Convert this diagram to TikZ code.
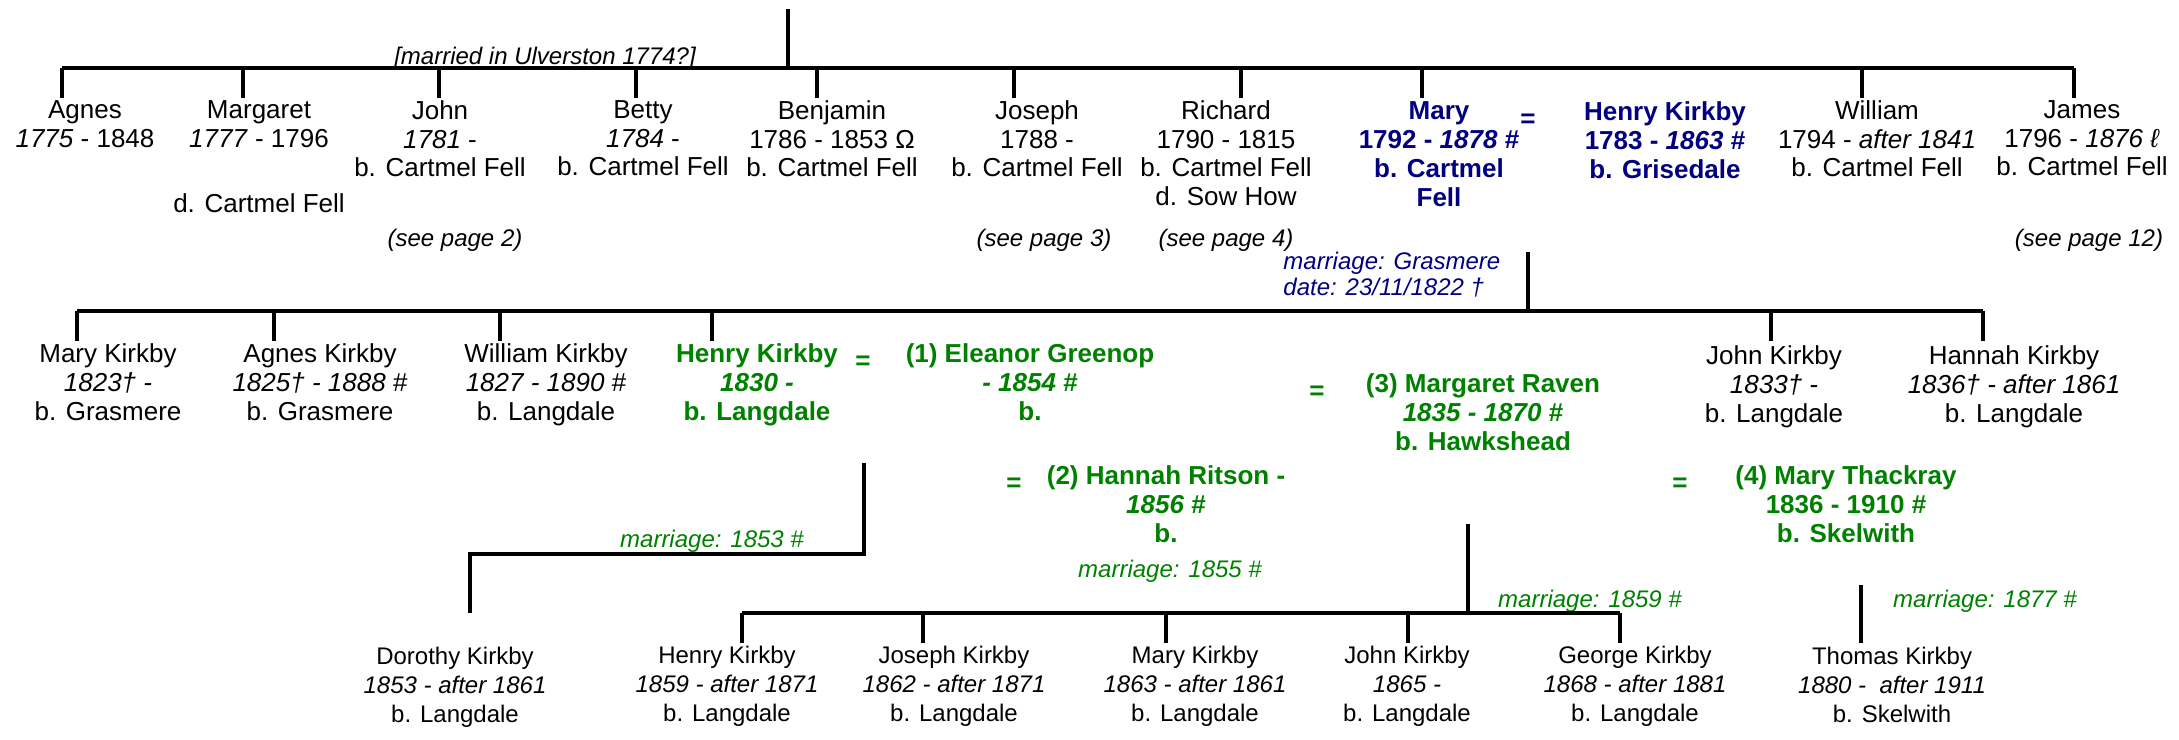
\documentclass[tikz,border=0pt]{standalone}
\usepackage{fontspec}
\setmainfont{Liberation Sans}
\definecolor{mblue}{RGB}{0,0,128}
\definecolor{mgreen}{RGB}{0,128,0}
\begin{document}
\begin{tikzpicture}[x=0.5pt,y=-0.5pt,
  line/.style={line width=1.65pt},
  big/.style={anchor=north,inner sep=0pt,align=center,
    font=\fontsize{13pt}{14.5pt}\selectfont,yshift=8.3pt,
    execute at begin node={\rule{0pt}{1em}}},
  bigA/.style={big,font=\fontsize{13pt}{14.25pt}\selectfont},
  small/.style={anchor=north,inner sep=0pt,align=center,
    font=\fontsize{12pt}{14.5pt}\selectfont,yshift=7.7pt,
    execute at begin node={\rule{0pt}{1em}}},
  note/.style={small,font=\fontsize{12pt}{14.5pt}\selectfont\itshape},
  blue/.style={text=mblue,font=\fontsize{13pt}{14.5pt}\selectfont\bfseries},
  green/.style={text=mgreen,font=\fontsize{13pt}{14.5pt}\selectfont\bfseries},
]
\useasboundingbox (0,0) rectangle (2179,739);

% ---------- generation 1 ----------
\node[note] (ulv) at (545,55) {[married in Ulverston 1774?]};
\node[bigA] (agnes) at (85,117) {Agnes\\\textit{1775} - 1848};
\node[bigA] (margaret) at (259,117) {Margaret\\\textit{1777} - 1796};
\node[bigA] (margaretd) at (259,203) {d. Cartmel Fell};
\node[bigA] (john) at (440,117) {John\\\textit{1781} -\\b. Cartmel Fell};
\node[bigA] (betty) at (643,117) {Betty\\\textit{1784} -\\b. Cartmel Fell};
\node[bigA] (benjamin) at (832,117) {Benjamin\\1786 - 1853 Ω\\b. Cartmel Fell};
\node[bigA] (joseph) at (1037,117) {Joseph\\1788 -\\b. Cartmel Fell};
\node[bigA] (richard) at (1226,117) {Richard\\1790 - 1815\\b. Cartmel Fell\\d. Sow How};
\node[big,blue] (mary) at (1439,118) {Mary\\1792 - \textit{1878} \#\\b. Cartmel\\Fell};
\node[big,blue] (eqa) at (1528,118) {=};
\node[big,blue] (henry) at (1665,118) {Henry Kirkby\\1783 - \textit{1863} \#\\b. Grisedale};
\node[bigA] (william) at (1877,117) {William\\1794 - \textit{after 1841}\\b. Cartmel Fell};
\node[bigA] (james) at (2082,117) {James\\1796 - \textit{1876 ℓ}\\b. Cartmel Fell};
\node[note] (sp2) at (455,237) {(see page 2)};
\node[note] (sp3) at (1044,237) {(see page 3)};
\node[note] (sp4) at (1226,237) {(see page 4)};
\node[note] (sp12) at (2089,237) {(see page 12)};

\coordinate (g1top) at (788,9);
\coordinate (g1j) at (788,68);
\coordinate (g1L) at (62,68);
\coordinate (g1R) at (2074,68);
\draw[line] (g1top) -- (g1j);
\draw[line] (g1L) -- (g1R);
\foreach \n/\x in {agnes/62,margaret/243,john/439,betty/636,benjamin/817,
  joseph/1014,richard/1241,mary/1422,william/1862,james/2074}{
  \coordinate (\n-t) at (\x,68);
  \coordinate (\n-b) at (\x,98);
  \draw[line] (\n-t) -- (\n-b);
}

% marriage Mary = Henry
\node[anchor=north west,inner sep=0pt,align=left,text=mblue,
  font=\fontsize{12pt}{13pt}\selectfont\itshape,yshift=7.7pt,
  execute at begin node={\rule{0pt}{1em}}] (mgras) at (1283,267)
  {marriage: Grasmere\\date: 23/11/1822 †};
\coordinate (g2top) at (1528,252);
\coordinate (g2j) at (1528,311);
\draw[line] (g2top) -- (g2j);

% ---------- generation 2 ----------
\coordinate (g2L) at (77,311);
\coordinate (g2R) at (1983,311);
\draw[line] (g2L) -- (g2R);
\foreach \n/\x in {mk/77,ak/274,wk/500,hk/712,jk/1771,hak/1983}{
  \coordinate (\n-t) at (\x,311);
  \coordinate (\n-b) at (\x,341);
  \draw[line] (\n-t) -- (\n-b);
}
\node[big] (mk) at (108,360) {Mary Kirkby\\\textit{1823† -}\\b. Grasmere};
\node[big] (ak) at (320,360) {Agnes Kirkby\\\textit{1825† - 1888} \#\\b. Grasmere};
\node[big] (wk) at (546,360) {William Kirkby\\\textit{1827 - 1890} \#\\b. Langdale};
\node[big,green] (hk) at (757,360) {Henry Kirkby\\\textit{1830 -}\\b. Langdale};
\node[big,green] (eqb) at (863,360) {=};
\node[big,green] (eg) at (1030,360) {(1) Eleanor Greenop\\\textit{- 1854} \#\\b.};
\node[big,green] (eqc) at (1317,390) {=};
\node[big,green] (mr) at (1483,390) {(3) Margaret Raven\\\textit{1835 - 1870} \#\\b. Hawkshead};
\node[big] (jk) at (1774,362) {John Kirkby\\\textit{1833† -}\\b. Langdale};
\node[big] (hak) at (2014,362) {Hannah Kirkby\\\textit{1836† - after 1861}\\b. Langdale};
\node[big,green] (eqd) at (1014,482) {=};
\node[big,green] (hr) at (1166,482) {(2) Hannah Ritson -\\\textit{1856} \#\\b.};
\node[note,text=mgreen] (m1855) at (1170,568) {marriage: 1855 \#};
\node[big,green] (eqe) at (1680,482) {=};
\node[big,green] (mt) at (1846,482) {(4) Mary Thackray\\1836 - 1910 \#\\b. Skelwith};

% ---------- generation 3 ----------
\node[note,text=mgreen] (m1853) at (712,538) {marriage: 1853 \#};
\node[note,text=mgreen] (m1859) at (1590,598) {marriage: 1859 \#};
\node[note,text=mgreen] (m1877) at (1985,598) {marriage: 1877 \#};

\coordinate (hkA) at (864,463);
\coordinate (hkB) at (864,554);
\coordinate (hkC) at (470,554);
\coordinate (dk-b) at (470,613);
\draw[line] (hkA) -- (hkB) -- (hkC) -- (dk-b);

\coordinate (mrA) at (1468,524);
\coordinate (mrB) at (1468,613);
\draw[line] (mrA) -- (mrB);
\coordinate (g3L) at (742,613);
\coordinate (g3R) at (1620,613);
\draw[line] (g3L) -- (g3R);
\foreach \n/\x in {hk3/742,jo3/923,ma3/1166,jo4/1408,ge3/1620}{
  \coordinate (\n-t) at (\x,613);
  \coordinate (\n-b) at (\x,643);
  \draw[line] (\n-t) -- (\n-b);
}
\coordinate (thA) at (1861,585);
\coordinate (th-b) at (1861,643);
\draw[line] (thA) -- (th-b);

\node[small] (dk) at (455,662) {Dorothy Kirkby\\\textit{1853 - after 1861}\\b. Langdale};
\node[small] (hk3) at (727,661) {Henry Kirkby\\\textit{1859 - after 1871}\\b. Langdale};
\node[small] (jo3) at (954,661) {Joseph Kirkby\\\textit{1862 - after 1871}\\b. Langdale};
\node[small] (ma3) at (1195,661) {Mary Kirkby\\\textit{1863 - after 1861}\\b. Langdale};
\node[small] (jo4) at (1407,661) {John Kirkby\\\textit{1865 -}\\b. Langdale};
\node[small] (ge3) at (1635,661) {George Kirkby\\\textit{1868 - after 1881}\\b. Langdale};
\node[small] (th3) at (1892,662) {Thomas Kirkby\\\textit{1880 - \ after 1911}\\b. Skelwith};
\end{tikzpicture}
\end{document}
